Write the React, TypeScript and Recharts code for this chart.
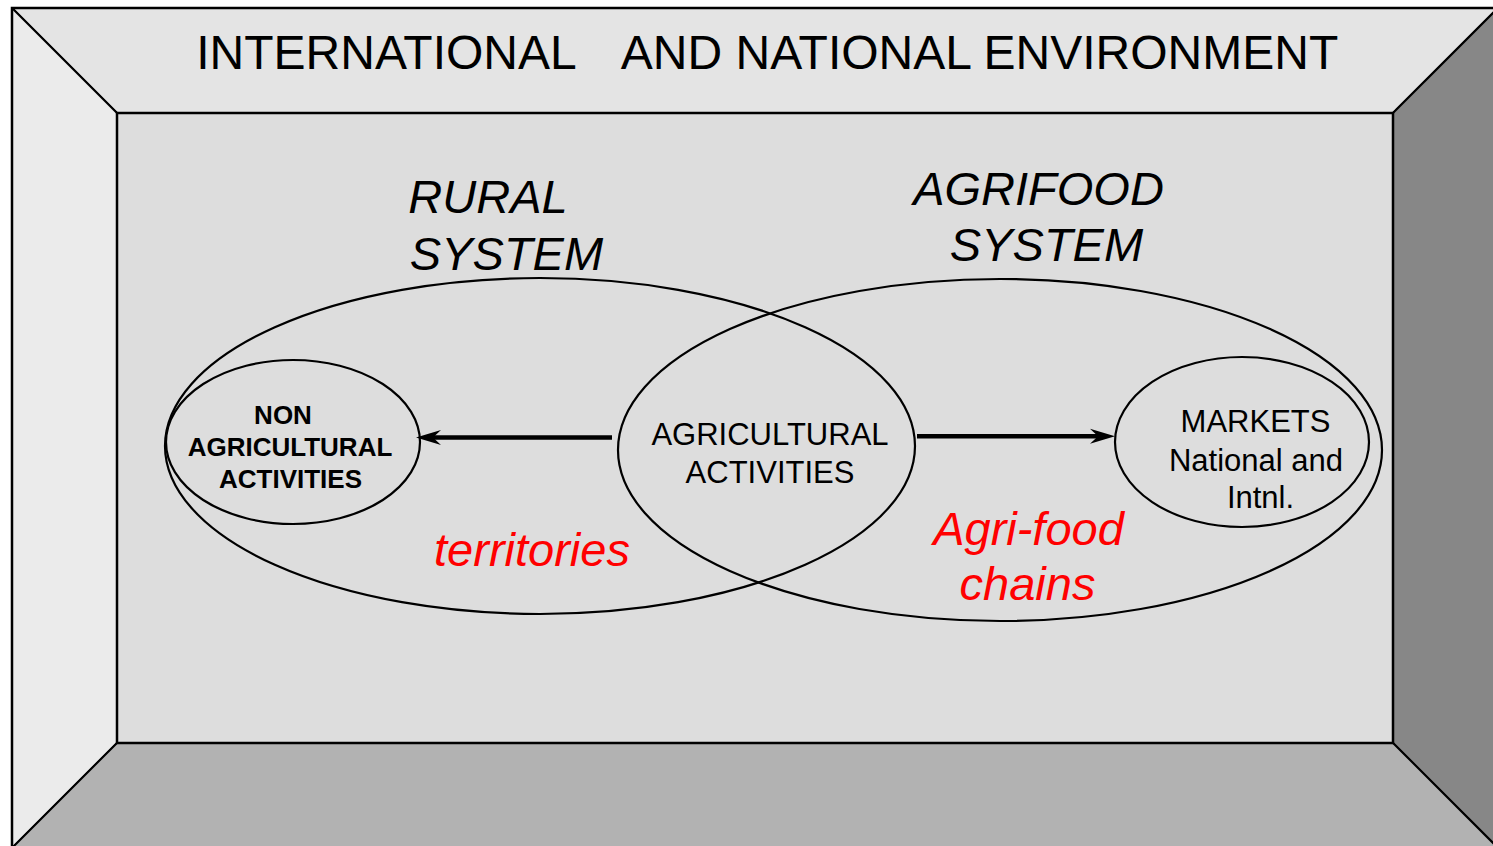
import { Area, ComposedChart, Line, ReferenceArea, Scatter, XAxis, YAxis } from "recharts";

const W = 1493;
const H = 846;
const FONT = '"Liberation Sans", Arial, Helvetica, sans-serif';

// frame: x stops of the bevelled border, and [from, to] y ranges at each stop
const frameX = [12, 117, 1393, 1498];
const topBevel = [[8, 8], [8, 113], [8, 113], [8, 8]];
const leftBevel = [[8, 848], [113, 743], null, null];
const rightBevel = [null, null, [113, 743], [8, 848]];
const bottomBevel = [[848, 848], [743, 848], [743, 848], [848, 848]];
const innerBox = { x1: 117, x2: 1393, y1: 113, y2: 743 };
const outerBox = { x1: 12, x2: 1498, y1: 8, y2: 848 };

// ellipses: centre + radii (the agricultural zone is the overlap of the two systems)
const ellipses = [
  { name: "rural", x: 540, y: 446, rx: 375, ry: 168 },
  { name: "agrifood", x: 1000, y: 450, rx: 382, ry: 171 },
  { name: "nonAgricultural", x: 293, y: 442, rx: 127, ry: 82 },
  { name: "markets", x: 1242, y: 442, rx: 127, ry: 85 },
];

// arrows
const arrowLeft = [{ x: 612, y: 437.5 }, { x: 430, y: 437.5 }];
const arrowRight = [{ x: 917, y: 436.3 }, { x: 1100, y: 436.3 }];
const arrowHeads = [
  { x: 416, y: 437.5, dir: -1 },
  { x: 1115, y: 436.3, dir: 1 },
];

// text
const titleLabels = [
  { text: "INTERNATIONAL", x: 386.5, y: 69 },
  { text: "AND NATIONAL ENVIRONMENT", x: 979.5, y: 69 },
];
const systemLabels = [
  { text: "RURAL", x: 488, y: 213 },
  { text: "SYSTEM", x: 506.5, y: 270 },
  { text: "AGRIFOOD", x: 1038.5, y: 205 },
  { text: "SYSTEM", x: 1046.5, y: 261 },
];
const nonAgLabels = [
  { text: "NON", x: 283, y: 424 },
  { text: "AGRICULTURAL", x: 290, y: 456 },
  { text: "ACTIVITIES", x: 290.5, y: 488 },
];
const nodeLabels = [
  { text: "AGRICULTURAL", x: 770, y: 445 },
  { text: "ACTIVITIES", x: 770, y: 483 },
  { text: "MARKETS", x: 1255.5, y: 432 },
  { text: "National and", x: 1256, y: 471 },
  { text: "Intnl.", x: 1260.5, y: 508 },
];
const redLabels = [
  { text: "territories", x: 532, y: 566 },
  { text: "Agri-food", x: 1028.5, y: 545 },
  { text: "chains", x: 1027.5, y: 600 },
];

const frameData = frameX.map((x, i) => ({
  x,
  top: topBevel[i],
  left: leftBevel[i],
  right: rightBevel[i],
  bottom: bottomBevel[i],
}));

// 1 domain unit == 1 px (domain matches chart size, zero margins)
const EllipseShape = (props: any) => {
  const { cx, cy, payload } = props;
  return (
    <ellipse cx={cx} cy={cy} rx={payload.rx} ry={payload.ry} fill="none" stroke="#000" strokeWidth={2.2} />
  );
};

const HeadShape = (props: any) => {
  const { cx, cy, payload } = props;
  const d = payload.dir;
  const pts = [
    [cx, cy],
    [cx - d * 25, cy - 7.5],
    [cx - d * 17, cy],
    [cx - d * 25, cy + 7.5],
  ]
    .map((p) => p.join(","))
    .join(" ");
  return <polygon points={pts} fill="#000" />;
};

const textShape =
  (size: number, weight: string, style: string, color: string) => (props: any) => {
    const { cx, cy, payload } = props;
    return (
      <text
        x={cx}
        y={cy}
        textAnchor="middle"
        fontFamily={FONT}
        fontSize={size}
        fontWeight={weight}
        fontStyle={style}
        fill={color}
      >
        {payload.text}
      </text>
    );
  };

export default function App() {
  return (
    <div style={{ position: "absolute", left: 0, top: 0, width: W, height: H, background: "#fff" }}>
      <ComposedChart width={W} height={H} data={frameData} margin={{ top: 0, right: 0, bottom: 0, left: 0 }}>
        <XAxis type="number" dataKey="x" domain={[0, W]} allowDataOverflow hide />
        <YAxis type="number" dataKey="y" domain={[0, H]} allowDataOverflow reversed hide />

        <Area type="linear" dataKey="top" fill="#e4e4e4" fillOpacity={1} stroke="#000" strokeWidth={2} dot={false} activeDot={false} isAnimationActive={false} />
        <Area type="linear" dataKey="left" fill="#ebebeb" fillOpacity={1} stroke="#000" strokeWidth={2} dot={false} activeDot={false} isAnimationActive={false} />
        <Area type="linear" dataKey="right" fill="#878787" fillOpacity={1} stroke="#000" strokeWidth={2} dot={false} activeDot={false} isAnimationActive={false} />
        <Area type="linear" dataKey="bottom" fill="#b2b2b2" fillOpacity={1} stroke="#000" strokeWidth={2} dot={false} activeDot={false} isAnimationActive={false} />

        <ReferenceArea {...innerBox} fill="#dddddd" fillOpacity={1} stroke="#000" strokeWidth={2.5} ifOverflow="hidden" />
        <ReferenceArea {...outerBox} fill="none" stroke="#000" strokeWidth={2.5} ifOverflow="hidden" />

        <Scatter data={ellipses} dataKey="y" shape={EllipseShape} isAnimationActive={false} />

        <Line data={arrowLeft} dataKey="y" stroke="#000" strokeWidth={4.5} dot={false} activeDot={false} isAnimationActive={false} />
        <Line data={arrowRight} dataKey="y" stroke="#000" strokeWidth={4.5} dot={false} activeDot={false} isAnimationActive={false} />
        <Scatter data={arrowHeads} dataKey="y" shape={HeadShape} isAnimationActive={false} />

        <Scatter data={titleLabels} dataKey="y" shape={textShape(48, "normal", "normal", "#000")} isAnimationActive={false} />
        <Scatter data={systemLabels} dataKey="y" shape={textShape(47, "normal", "italic", "#000")} isAnimationActive={false} />
        <Scatter data={nonAgLabels} dataKey="y" shape={textShape(26, "bold", "normal", "#000")} isAnimationActive={false} />
        <Scatter data={nodeLabels} dataKey="y" shape={textShape(31, "normal", "normal", "#000")} isAnimationActive={false} />
        <Scatter data={redLabels} dataKey="y" shape={textShape(47, "normal", "italic", "#ff0000")} isAnimationActive={false} />
      </ComposedChart>
    </div>
  );
}
